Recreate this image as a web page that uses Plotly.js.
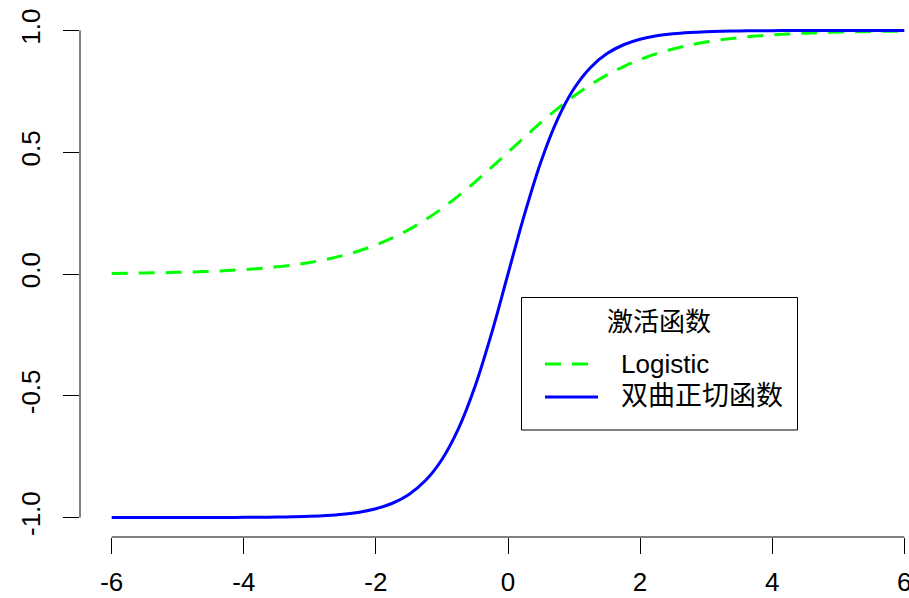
<!DOCTYPE html>
<html>
<head>
<meta charset="utf-8">
<script src="https://cdn.plot.ly/plotly-3.0.1.min.js"></script>
<style>
  html, body { margin: 0; padding: 0; overflow: hidden; background: #fff; }
  #chart { width: 940px; height: 598px; }
</style>
</head>
<body>
<div id="chart"></div>
<script>
// ---- data ----
const xValues = [-6, -5.75, -5.5, -5.25, -5, -4.75, -4.5, -4.25, -4, -3.75, -3.5, -3.25, -3,
  -2.75, -2.5, -2.25, -2, -1.75, -1.5, -1.25, -1, -0.75, -0.5, -0.25, 0,
  0.25, 0.5, 0.75, 1, 1.25, 1.5, 1.75, 2, 2.25, 2.5, 2.75, 3,
  3.25, 3.5, 3.75, 4, 4.25, 4.5, 4.75, 5, 5.25, 5.5, 5.75, 6];

const logisticValues = [0.0025, 0.0032, 0.0041, 0.0052, 0.0067, 0.0086, 0.0110, 0.0141, 0.0180,
  0.0230, 0.0293, 0.0373, 0.0474, 0.0601, 0.0759, 0.0953, 0.1192, 0.1480, 0.1824, 0.2227,
  0.2689, 0.3208, 0.3775, 0.4378, 0.5000,
  0.5622, 0.6225, 0.6792, 0.7311, 0.7773, 0.8176, 0.8520, 0.8808, 0.9047, 0.9241, 0.9399,
  0.9526, 0.9627, 0.9707, 0.9770, 0.9820, 0.9859, 0.9890, 0.9914, 0.9933, 0.9948, 0.9959,
  0.9968, 0.9975];

const tanhValues = [-1.0000, -1.0000, -1.0000, -1.0000, -0.9999, -0.9999, -0.9998, -0.9996, -0.9993,
  -0.9989, -0.9982, -0.9970, -0.9951, -0.9919, -0.9866, -0.9780, -0.9640, -0.9414, -0.9051,
  -0.8483, -0.7616, -0.6351, -0.4621, -0.2449, 0.0000,
  0.2449, 0.4621, 0.6351, 0.7616, 0.8483, 0.9051, 0.9414, 0.9640, 0.9780, 0.9866, 0.9919,
  0.9951, 0.9970, 0.9982, 0.9989, 0.9993, 0.9996, 0.9998, 0.9999, 0.9999, 1.0000, 1.0000,
  1.0000, 1.0000];

const seriesNames = ["Logistic", "双曲正切函数"];
const legendTitle = "激活函数";
const xTicks = [-6, -4, -2, 0, 2, 4, 6];
const xTickText = ["-6", "-4", "-2", "0", "2", "4", "6"];
const yTicks = [-1, -0.5, 0, 0.5, 1];
const yTickText = ["-1.0", "-0.5", "0.0", "0.5", "1.0"];

// ---- layout geometry ----
const W = 940, H = 598;
const M = { l: 80, r: 4, t: 11, b: 61 };
const plotW = W - M.l - M.r, plotH = H - M.t - M.b;
const px = p => (p - M.l) / plotW;          // pixel x -> paper x
const py = p => (H - M.b - p) / plotH;      // pixel y -> paper y

const FONT = "Liberation Sans, Arial, Noto Sans CJK SC, sans-serif";
const FS = 26;
const GREEN = "#00FF00", BLUE = "#0000FF";

const traces = [
  { x: xValues, y: logisticValues, name: seriesNames[0], type: "scatter", mode: "lines",
    line: { color: GREEN, width: 3, dash: "16px,11px", shape: "spline" } },
  { x: xValues, y: tanhValues, name: seriesNames[1], type: "scatter", mode: "lines",
    line: { color: BLUE, width: 3, shape: "spline" } }
];

const axisCommon = {
  showgrid: false, zeroline: false, showline: false,
  ticks: "outside", ticklen: 16, tickwidth: 1, tickcolor: "#000",
  tickfont: { family: FONT, size: FS, color: "#000" },
  fixedrange: true
};

const layout = {
  width: W, height: H,
  margin: M,
  paper_bgcolor: "#fff", plot_bgcolor: "#fff",
  showlegend: false,
  xaxis: Object.assign({}, axisCommon, {
    range: [-6.48, 6.48], tickmode: "array", tickvals: xTicks, ticktext: xTickText,
    ticklabelstandoff: 6
  }),
  yaxis: Object.assign({}, axisCommon, {
    range: [-1.08, 1.08], tickmode: "array", tickvals: yTicks, ticktext: yTickText,
    tickangle: -90, ticklabelstandoff: 13
  }),
  shapes: [
    // axis lines (span first to last tick, R style)
    { type: "line", xref: "x", yref: "paper", x0: xTicks[0], x1: xTicks[xTicks.length - 1], y0: 0, y1: 0,
      line: { color: "#000", width: 1 } },
    { type: "line", xref: "paper", yref: "y", x0: 0, x1: 0, y0: yTicks[0], y1: yTicks[yTicks.length - 1],
      line: { color: "#000", width: 1 } },
    // legend box
    { type: "rect", xref: "paper", yref: "paper", x0: px(521.5), x1: px(797.5), y0: py(430), y1: py(297.5),
      line: { color: "#000", width: 1 }, fillcolor: "#fff" },
    // legend samples
    { type: "line", xref: "paper", yref: "paper", x0: px(545), x1: px(598), y0: py(364), y1: py(364),
      line: { color: GREEN, width: 3, dash: "16px,11px" } },
    { type: "line", xref: "paper", yref: "paper", x0: px(545), x1: px(598), y0: py(397), y1: py(397),
      line: { color: BLUE, width: 3 } }
  ],
  annotations: [
    { text: legendTitle, xref: "paper", yref: "paper", x: px(659), y: py(322),
      xanchor: "center", yanchor: "middle", showarrow: false,
      font: { family: FONT, size: FS, color: "#000" } },
    { text: seriesNames[0], xref: "paper", yref: "paper", x: px(619), y: py(364),
      xanchor: "left", yanchor: "middle", showarrow: false,
      font: { family: FONT, size: FS, color: "#000" } },
    { text: seriesNames[1], xref: "paper", yref: "paper", x: px(619), y: py(396),
      xanchor: "left", yanchor: "middle", showarrow: false,
      font: { family: FONT, size: FS + 1, color: "#000" } }
  ]
};

Plotly.newPlot("chart", traces, layout, { displayModeBar: false, staticPlot: true });
</script>
</body>
</html>
